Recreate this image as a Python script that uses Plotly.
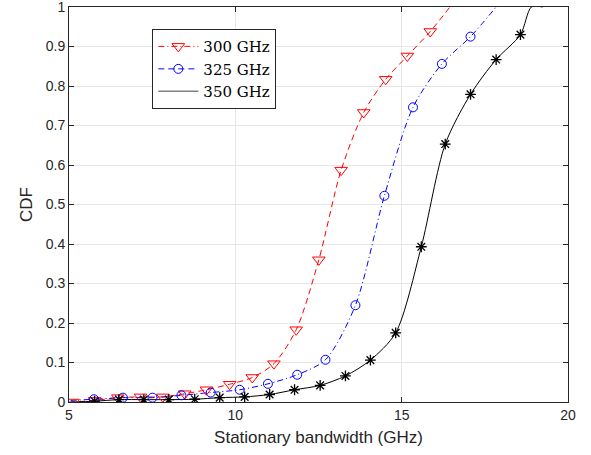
import plotly.graph_objects as go

# ---- data ----
# 300 GHz (markers)
x300 = [5.12, 5.77, 6.47, 7.15, 7.82, 8.48, 9.13, 9.83, 10.51, 11.16, 11.83, 12.51, 13.18, 13.86, 14.52, 15.17, 15.86]
y300 = [0.0, 0.004, 0.011, 0.013, 0.013, 0.021, 0.031, 0.045, 0.062, 0.097, 0.183, 0.360, 0.587, 0.733, 0.817, 0.876, 0.938]
# 300 GHz line (markers plus start/end)
lx300 = [5.0] + x300 + [16.45]
ly300 = [0.0] + y300 + [1.0]

# 325 GHz
x325 = [5.75, 6.62, 7.51, 8.38, 9.26, 10.13, 10.98, 11.86, 12.71, 13.61, 14.48, 15.34, 16.21, 17.07]
y325 = [0.007, 0.011, 0.011, 0.017, 0.024, 0.031, 0.046, 0.069, 0.107, 0.245, 0.522, 0.746, 0.856, 0.925]
lx325 = [5.05] + x325 + [17.84]
ly325 = [0.004] + y325 + [1.0]

# 350 GHz
x350 = [5.77, 6.50, 7.25, 8.00, 8.78, 9.53, 10.28, 11.03, 11.78, 12.55, 13.31, 14.06, 14.82, 15.59, 16.31, 17.07, 17.84, 18.57]
y350 = [0.002, 0.006, 0.006, 0.006, 0.007, 0.011, 0.013, 0.019, 0.031, 0.042, 0.066, 0.106, 0.175, 0.393, 0.653, 0.779, 0.867, 0.930]
lx350 = [5.05] + x350 + [18.9, 19.24]
ly350 = [0.0] + y350 + [1.0, 1.0]

names = ["300 GHz", "325 GHz", "350 GHz"]
xticks = [5, 10, 15, 20]
yticks = [0, 0.1, 0.2, 0.3, 0.4, 0.5, 0.6, 0.7, 0.8, 0.9, 1]
ytick_text = ["0", "0.1", "0.2", "0.3", "0.4", "0.5", "0.6", "0.7", "0.8", "0.9", "1"]

RED = "#ff0000"
BLUE = "#0000ff"
BLACK = "#000000"
DASH = "6px,4px"
DASHDOT = "6px,3px,1px,3px"

fig = go.Figure()

# lines
fig.add_trace(go.Scatter(x=lx300, y=ly300, mode="lines", showlegend=False, hoverinfo="skip",
                         line=dict(color=RED, width=1, dash=DASH, shape="spline", smoothing=0.8)))
fig.add_trace(go.Scatter(x=lx325, y=ly325, mode="lines", showlegend=False, hoverinfo="skip",
                         line=dict(color=BLUE, width=1, dash=DASHDOT, shape="spline", smoothing=0.8)))
fig.add_trace(go.Scatter(x=lx350, y=ly350, mode="lines", showlegend=False, hoverinfo="skip",
                         line=dict(color=BLACK, width=1, shape="spline", smoothing=0.8)))

# markers
fig.add_trace(go.Scatter(x=x300, y=y300, mode="markers", showlegend=False,
                         marker=dict(symbol="triangle-down-open", size=11, color=RED, line=dict(width=1, color=RED))))
fig.add_trace(go.Scatter(x=x325, y=y325, mode="markers", showlegend=False,
                         marker=dict(symbol="circle-open", size=9, color=BLUE, line=dict(width=1, color=BLUE))))
fig.add_trace(go.Scatter(x=x350, y=y350, mode="markers", showlegend=False,
                         marker=dict(symbol="asterisk-open", size=9, color=BLACK, line=dict(width=1.3, color=BLACK))))

# legend entries
fig.add_trace(go.Scatter(x=[None], y=[None], mode="lines+markers", name=names[0],
                         line=dict(color=RED, width=1, dash=DASHDOT),
                         marker=dict(symbol="triangle-down-open", size=11, color=RED, line=dict(width=1, color=RED))))
fig.add_trace(go.Scatter(x=[None], y=[None], mode="lines+markers", name=names[1],
                         line=dict(color=BLUE, width=1, dash=DASH),
                         marker=dict(symbol="circle-open", size=9, color=BLUE, line=dict(width=1, color=BLUE))))
fig.add_trace(go.Scatter(x=[None], y=[None], mode="lines", name=names[2],
                         line=dict(color="#808080", width=1.5)))

axis_common = dict(
    showline=True, linecolor="#262626", linewidth=1, mirror="ticks",
    ticks="inside", ticklen=5, tickcolor="#262626", tickwidth=1,
    showgrid=True, gridcolor="#e6e6e6", gridwidth=1, zeroline=False,
    ticklabeloverflow="allow", automargin=False,
    tickfont=dict(family="Liberation Sans, Arial, sans-serif", size=14, color="#262626"),
)

fig.update_xaxes(range=[5, 20], tickvals=xticks, ticktext=[str(v) for v in xticks],
                 title=dict(text="Stationary bandwidth (GHz)", standoff=9,
                            font=dict(family="Liberation Sans, Arial, sans-serif", size=17, color="#262626")),
                 **axis_common)
fig.update_yaxes(range=[0, 1], tickvals=yticks, ticktext=ytick_text,
                 title=dict(text="CDF", standoff=8,
                            font=dict(family="Liberation Sans, Arial, sans-serif", size=17, color="#262626")),
                 **axis_common)

fig.update_layout(
    width=591, height=455,
    margin=dict(l=69, r=23, t=7, b=53),
    paper_bgcolor="white", plot_bgcolor="white",
    showlegend=True,
    legend=dict(x=0.167, y=0.944, xanchor="left", yanchor="top",
                bgcolor="white", bordercolor="#262626", borderwidth=1,
                font=dict(family="DejaVu Serif, Liberation Serif, serif", size=15, color="#000000"),
                tracegroupgap=0, itemwidth=40),
)

fig.write_html("out.html")
